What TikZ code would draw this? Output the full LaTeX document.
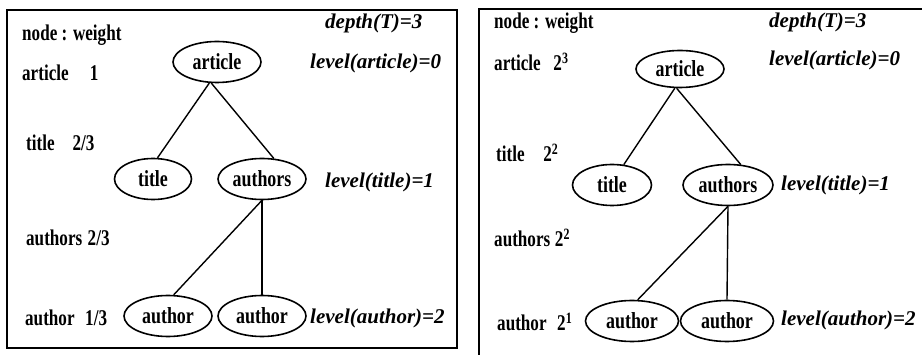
\documentclass[tikz,border=0pt]{standalone}
\usepackage{fontspec}
\usepackage{graphicx}
\setmainfont{Liberation Serif}
\usetikzlibrary{shapes.geometric}
\newcommand{\cz}[1]{\scalebox{0.78}[1]{#1}}
\newcommand{\cw}[1]{\scalebox{0.76}[1]{#1}}
\tikzset{
  tnode/.style={draw, ellipse, line width=1.6pt, inner sep=0pt, minimum width=88pt, minimum height=41pt, font=\fontsize{23}{24}\selectfont\bfseries},
  wtext/.style={anchor=west, inner sep=0pt, font=\fontsize{22.5}{24}\selectfont\bfseries},
  ltext/.style={anchor=west, inner sep=0pt, font=\fontsize{21}{22}\selectfont\bfseries\itshape},
  edge/.style={line width=1.4pt},
  frame/.style={line width=1.8pt}
}
\begin{document}
\begin{tikzpicture}[x=1pt,y=-1pt]
\useasboundingbox (0,0) rectangle (922,355);
% left panel frame
\draw[frame] (7,10) rectangle (457,348);
% right panel frame (left and top edges visible)
\draw[frame] (479,355) -- (479,9) -- (922,9);

% ---------- left panel ----------
\node[wtext] (lhead) at (22,35) {\cw{node : weight}};
\node[wtext] (lw1) at (22,73) {\cw{\makebox[89pt][l]{article}1}};
\node[wtext] (lw2) at (26,143) {\cw{\makebox[61pt][l]{title}2/3}};
\node[wtext] (lw3) at (26,238) {\cw{\makebox[81pt][l]{authors}2/3}};
\node[wtext] (lw4) at (25,318) {\cw{\makebox[79pt][l]{author}1/3}};
\node[ltext] (ldepth) at (325,23) {depth(T)=3};
\node[ltext] (llv0) at (310,63) {level(article)=0};
\node[ltext] (llv1) at (325,182) {level(title)=1};
\node[ltext] (llv2) at (310,318) {level(author)=2};

\node[tnode] (la) at (217,62) {\cz{article}};
\node[tnode, minimum width=77pt] (lt) at (153,179) {\cz{title}};
\node[tnode] (lau) at (262,179) {\cz{authors}};
\node[tnode] (lx1) at (168,316) {\cz{author}};
\node[tnode] (lx2) at (262,316) {\cz{author}};

\draw[edge] (la.-110) -- (lt.78);
\draw[edge] (la.-105) -- (lau.60);
\draw[edge] (lau.south) -- (lx1.75);
\draw[edge] (lau.south) -- (lx2.north);

% ---------- right panel ----------
\node[wtext] (rhead) at (494,23) {\cw{node : weight}};
\node[wtext] (rw1) at (494,62) {\cw{\makebox[78pt][l]{article}2\textsuperscript{3}}};
\node[wtext] (rw2) at (496,153) {\cw{\makebox[62pt][l]{title}2\textsuperscript{2}}};
\node[wtext] (rw3) at (494,238) {\cw{\makebox[80pt][l]{authors}2\textsuperscript{2}}};
\node[wtext] (rw4) at (497,322) {\cw{\makebox[79pt][l]{author}2\textsuperscript{1}}};
\node[ltext] (rdepth) at (769,22) {depth(T)=3};
\node[ltext] (rlv0) at (769,60) {level(article)=0};
\node[ltext] (rlv1) at (781,185) {level(title)=1};
\node[ltext] (rlv2) at (781,320) {level(author)=2};

\node[tnode, minimum height=37pt] (ra) at (680,69) {\cz{article}};
\node[tnode, minimum width=79pt] (rt) at (612,185) {\cz{title}};
\node[tnode, minimum width=90pt] (rau) at (728,185) {\cz{authors}};
\node[tnode, minimum width=93pt] (rx1) at (632,321) {\cz{author}};
\node[tnode, minimum width=93pt] (rx2) at (727,321) {\cz{author}};

\draw[edge] (ra.-105) -- (rt.60);
\draw[edge] (ra.-100) -- (rau.58);
\draw[edge] (rau.south) -- (rx1.75);
\draw[edge] (rau.south) -- (rx2.north);
\end{tikzpicture}
\end{document}
